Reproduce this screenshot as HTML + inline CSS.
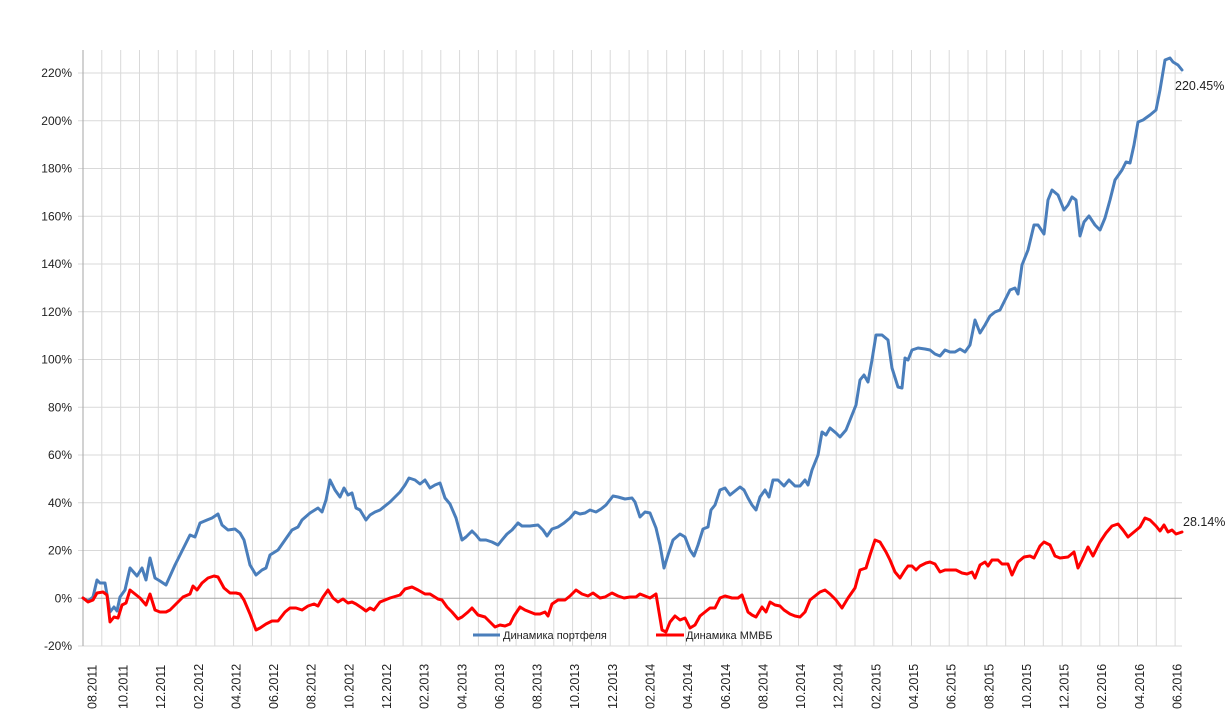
<!DOCTYPE html>
<html><head><meta charset="utf-8"><style>
html,body{margin:0;padding:0;background:#fff}
svg{display:block;font-family:"Liberation Sans",sans-serif}
</style></head><body>
<svg width="1229" height="724" viewBox="0 0 1229 724" xmlns="http://www.w3.org/2000/svg">
<path stroke="#d9d9d9" stroke-width="1" fill="none" d="M101.8 50V646M120.7 50V646M139.5 50V646M158.3 50V646M177.2 50V646M196 50V646M214.8 50V646M233.6 50V646M252.5 50V646M271.3 50V646M290.1 50V646M309 50V646M327.8 50V646M346.6 50V646M365.5 50V646M384.3 50V646M403.1 50V646M421.9 50V646M440.8 50V646M459.6 50V646M478.4 50V646M497.3 50V646M516.1 50V646M534.9 50V646M553.8 50V646M572.6 50V646M591.4 50V646M610.2 50V646M629.1 50V646M647.9 50V646M666.7 50V646M685.6 50V646M704.4 50V646M723.2 50V646M742.1 50V646M760.9 50V646M779.7 50V646M798.5 50V646M817.4 50V646M836.2 50V646M855 50V646M873.9 50V646M892.7 50V646M911.5 50V646M930.4 50V646M949.2 50V646M968 50V646M986.8 50V646M1005.7 50V646M1024.5 50V646M1043.3 50V646M1062.2 50V646M1081 50V646M1099.8 50V646M1118.7 50V646M1137.5 50V646M1156.3 50V646M1175.1 50V646
M78 73H1182M78 120.75H1182M78 168.5H1182M78 216.25H1182M78 264H1182M78 311.75H1182M78 359.5H1182M78 407.25H1182M78 455H1182M78 502.75H1182M78 550.5H1182M78 646H1182"/>
<line x1="83" y1="50" x2="83" y2="646" stroke="#a6a6a6"/>
<line x1="78" y1="598.25" x2="1182" y2="598.25" stroke="#a6a6a6"/>
<g font-size="12" fill="#222" text-anchor="end">
<text x="72" y="77">220%</text><text x="72" y="124.75">200%</text><text x="72" y="172.5">180%</text><text x="72" y="220.25">160%</text><text x="72" y="268">140%</text><text x="72" y="315.75">120%</text><text x="72" y="363.5">100%</text><text x="72" y="411.25">80%</text><text x="72" y="459">60%</text><text x="72" y="506.75">40%</text><text x="72" y="554.5">20%</text><text x="72" y="602.25">0%</text><text x="72" y="650">-20%</text>
</g>
<g font-size="12.5" fill="#222">
<text transform="translate(96.5,709) rotate(-90)">08.2011</text>
<text transform="translate(127.5,709) rotate(-90)">10.2011</text>
<text transform="translate(165.1,709) rotate(-90)">12.2011</text>
<text transform="translate(202.8,709) rotate(-90)">02.2012</text>
<text transform="translate(240.4,709) rotate(-90)">04.2012</text>
<text transform="translate(278.1,709) rotate(-90)">06.2012</text>
<text transform="translate(315.7,709) rotate(-90)">08.2012</text>
<text transform="translate(353.3,709) rotate(-90)">10.2012</text>
<text transform="translate(391,709) rotate(-90)">12.2012</text>
<text transform="translate(428.6,709) rotate(-90)">02.2013</text>
<text transform="translate(466.3,709) rotate(-90)">04.2013</text>
<text transform="translate(503.9,709) rotate(-90)">06.2013</text>
<text transform="translate(541.6,709) rotate(-90)">08.2013</text>
<text transform="translate(579.2,709) rotate(-90)">10.2013</text>
<text transform="translate(616.8,709) rotate(-90)">12.2013</text>
<text transform="translate(654.5,709) rotate(-90)">02.2014</text>
<text transform="translate(692.1,709) rotate(-90)">04.2014</text>
<text transform="translate(729.8,709) rotate(-90)">06.2014</text>
<text transform="translate(767.4,709) rotate(-90)">08.2014</text>
<text transform="translate(805.1,709) rotate(-90)">10.2014</text>
<text transform="translate(842.7,709) rotate(-90)">12.2014</text>
<text transform="translate(880.3,709) rotate(-90)">02.2015</text>
<text transform="translate(918,709) rotate(-90)">04.2015</text>
<text transform="translate(955.6,709) rotate(-90)">06.2015</text>
<text transform="translate(993.3,709) rotate(-90)">08.2015</text>
<text transform="translate(1030.9,709) rotate(-90)">10.2015</text>
<text transform="translate(1068.5,709) rotate(-90)">12.2015</text>
<text transform="translate(1106.2,709) rotate(-90)">02.2016</text>
<text transform="translate(1143.8,709) rotate(-90)">04.2016</text>
<text transform="translate(1181.5,709) rotate(-90)">06.2016</text>
</g>
<polyline fill="none" stroke="#4a7ebb" stroke-width="3" stroke-linejoin="round" stroke-linecap="round" points="83,598 88,601 93,597 97,580 100,583 105,583 110,612 114,607 117,611 120,597 125,590 130,568 137,576 142,568 146,580 150,558 155,578 160,581 166,585 175,565 185,545 190,535 195,537 200,523 207,520 212,518 218,514 222,525 228,530 235,529 240,533 244,540 250,565 256,575 262,570 266,568 270,555 278,550 285,540 292,530 298,527 302,520 310,513 318,508 322,512 326,500 330,480 335,490 340,497 344,488 348,495 352,493 356,508 360,510 366,520 370,515 375,512 380,510 390,502 400,492 405,485 409,478 415,480 420,484 425,480 430,488 435,485 440,483 445,498 450,504 456,518 462,540 466,537 472,531 476,535 480,540 486,540 492,542 498,545 502,540 507,534 512,530 518,523 522,526 530,526 538,525 543,530 547,536 552,529 558,527 564,523 570,518 575,512 580,514 585,513 590,510 596,512 601,509 606,505 613,496 618,497 625,499 632,498 635,502 640,517 645,512 650,513 656,528 660,545 664,568 668,555 673,540 680,534 685,537 690,550 694,556 698,545 703,529 708,527 711,510 715,505 720,490 725,488 730,495 735,491 740,487 744,490 748,498 752,505 756,510 760,497 765,490 769,497 773,480 778,480 784,486 789,480 795,486 800,486 805,480 808,485 812,470 818,455 822,432 826,435 830,428 836,433 840,437 846,430 850,420 856,405 860,380 864,375 868,382 872,360 876,335 882,335 888,340 892,368 898,387 902,388 905,358 908,360 912,350 918,348 925,349 930,350 935,354 940,356 945,350 950,352 955,352 960,349 965,352 970,345 975,320 980,333 985,325 990,316 995,312 1000,310 1005,300 1010,290 1015,288 1018,294 1022,265 1028,250 1034,225 1038,225 1044,234 1048,200 1052,190 1058,195 1064,210 1068,205 1072,197 1076,200 1080,236 1084,222 1089,216 1095,225 1100,230 1105,218 1110,200 1115,180 1122,170 1126,162 1130,163 1134,145 1138,122 1143,120 1150,115 1156,110 1160,90 1165,60 1170,58 1173,62 1178,65 1182,70"/>
<polyline fill="none" stroke="#ff0000" stroke-width="3" stroke-linejoin="round" stroke-linecap="round" points="83,598 88,602 93,600 97,593 103,592 107,595 110,622 114,617 118,618 122,605 126,603 130,590 135,594 140,598 146,605 150,594 155,610 160,612 166,612 170,610 176,604 183,597 190,594 193,586 197,590 202,583 208,578 214,576 218,577 224,588 230,593 236,593 240,594 244,600 250,614 256,630 260,628 266,624 272,621 278,621 285,612 290,608 296,608 302,610 308,606 314,604 318,606 323,597 328,590 333,598 338,602 343,599 348,603 352,602 356,604 362,608 366,611 370,608 374,610 380,602 390,598 400,595 405,589 412,587 418,590 425,594 430,594 438,599 442,600 447,607 452,612 458,619 462,617 468,612 472,608 478,615 485,617 490,622 495,627 500,625 505,626 510,624 514,616 520,607 525,610 530,612 535,614 540,614 545,612 548,616 552,604 558,600 565,600 570,596 576,590 582,594 588,596 593,593 600,598 605,597 612,593 618,596 624,598 630,597 636,597 640,594 645,596 650,598 656,594 662,630 666,632 670,622 675,616 680,620 685,618 690,628 695,625 700,616 705,612 710,608 715,608 720,598 725,596 732,598 738,598 742,595 748,612 752,615 756,617 762,607 766,612 770,602 775,605 780,606 784,610 790,614 795,616 800,617 805,612 810,600 815,596 820,592 825,590 830,594 836,600 842,608 848,598 855,588 860,570 866,568 870,555 875,540 880,542 886,552 890,560 895,572 900,578 905,570 908,566 912,566 916,570 920,566 926,563 930,562 935,564 940,572 945,570 950,570 956,570 962,573 967,574 972,572 975,578 980,565 985,562 988,566 992,560 998,560 1002,564 1008,564 1012,575 1018,562 1024,557 1030,556 1034,558 1040,546 1044,542 1050,545 1055,556 1060,558 1068,557 1074,552 1078,568 1082,560 1088,547 1093,556 1100,542 1106,533 1112,526 1118,524 1123,530 1128,537 1134,532 1140,527 1145,518 1150,520 1156,526 1160,531 1164,525 1168,532 1172,530 1176,534 1182,532"/>
<text x="1175" y="90" font-size="12.5" fill="#222">220.45%</text>
<text x="1183" y="526" font-size="12.5" fill="#222">28.14%</text>
<line x1="473" y1="635" x2="500" y2="635" stroke="#4a7ebb" stroke-width="3"/>
<text x="503" y="639" font-size="11" fill="#222">Динамика портфеля</text>
<line x1="656" y1="635" x2="684" y2="635" stroke="#ff0000" stroke-width="3"/>
<text x="686" y="639" font-size="11" fill="#222">Динамика ММВБ</text>
</svg>
</body></html>
